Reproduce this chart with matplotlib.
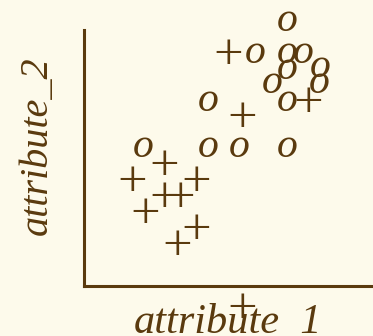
import matplotlib
matplotlib.use('Agg')
import matplotlib.pyplot as plt
from matplotlib.transforms import offset_copy

# class "o" points
o_x = [12.7, 10.7, 12.7, 13.7, 12.7, 14.75, 11.75, 14.7, 7.75, 12.7, 3.7, 7.75, 9.7, 12.7]
o_y = [16.6, 14.6, 14.6, 14.6, 13.6, 13.7, 12.7, 12.7, 11.6, 11.6, 8.7, 8.7, 8.7, 8.7]

# class "+" points
p_x = [9.0, 14.0, 9.9, 5.0, 3.0, 7.0, 5.0, 6.0, 3.8, 7.0, 5.8, 9.9]
p_y = [14.7, 11.7, 10.75, 7.75, 6.75, 6.75, 5.75, 5.75, 4.75, 3.75, 2.75, -1.2]

x_label = 'attribute_1'
y_label = 'attribute_2'

bg = '#fdfaeb'
ink = '#5a3a0e'
serif = ['Liberation Serif', 'DejaVu Serif']

fig = plt.figure(figsize=(3.73, 3.36), dpi=100, facecolor=bg)
W, H = 373, 336
ax = fig.add_axes([84 / W, (H - 286) / H, (W - 84) / W, 256 / H])
ax.set_facecolor(bg)
ax.set_xlim(0, (W - 84) / 16)
ax.set_ylim(0, 16)
for s in ['top', 'right']:
    ax.spines[s].set_visible(False)
for s in ['left', 'bottom']:
    ax.spines[s].set_color(ink)
    ax.spines[s].set_linewidth(2.2)
ax.set_xticks([])
ax.set_yticks([])

# shift baselines so glyph middles sit on the data points
o_trans = offset_copy(ax.transData, fig=fig, y=-7.5, units='points')
p_trans = offset_copy(ax.transData, fig=fig, y=-13, units='points')
for x, y in zip(o_x, o_y):
    ax.text(x, y, 'o', transform=o_trans, ha='center', va='baseline',
            fontsize=30, fontstyle='italic', family=serif, color=ink, clip_on=False)
for x, y in zip(p_x, p_y):
    ax.text(x, y, '+', transform=p_trans, ha='center', va='baseline',
            fontsize=38, family=serif, color=ink, clip_on=False)

fig.text(228 / W, (H - 332.5) / H, x_label, ha='center', va='baseline',
         fontsize=30.5, fontstyle='italic', family=serif, color=ink)
fig.text(37 / W, (H - 146) / H, y_label, ha='center', va='center', rotation=90,
         fontsize=29, fontstyle='italic', family=serif, color=ink)

fig.savefig('out.png', dpi=100, facecolor=bg)
